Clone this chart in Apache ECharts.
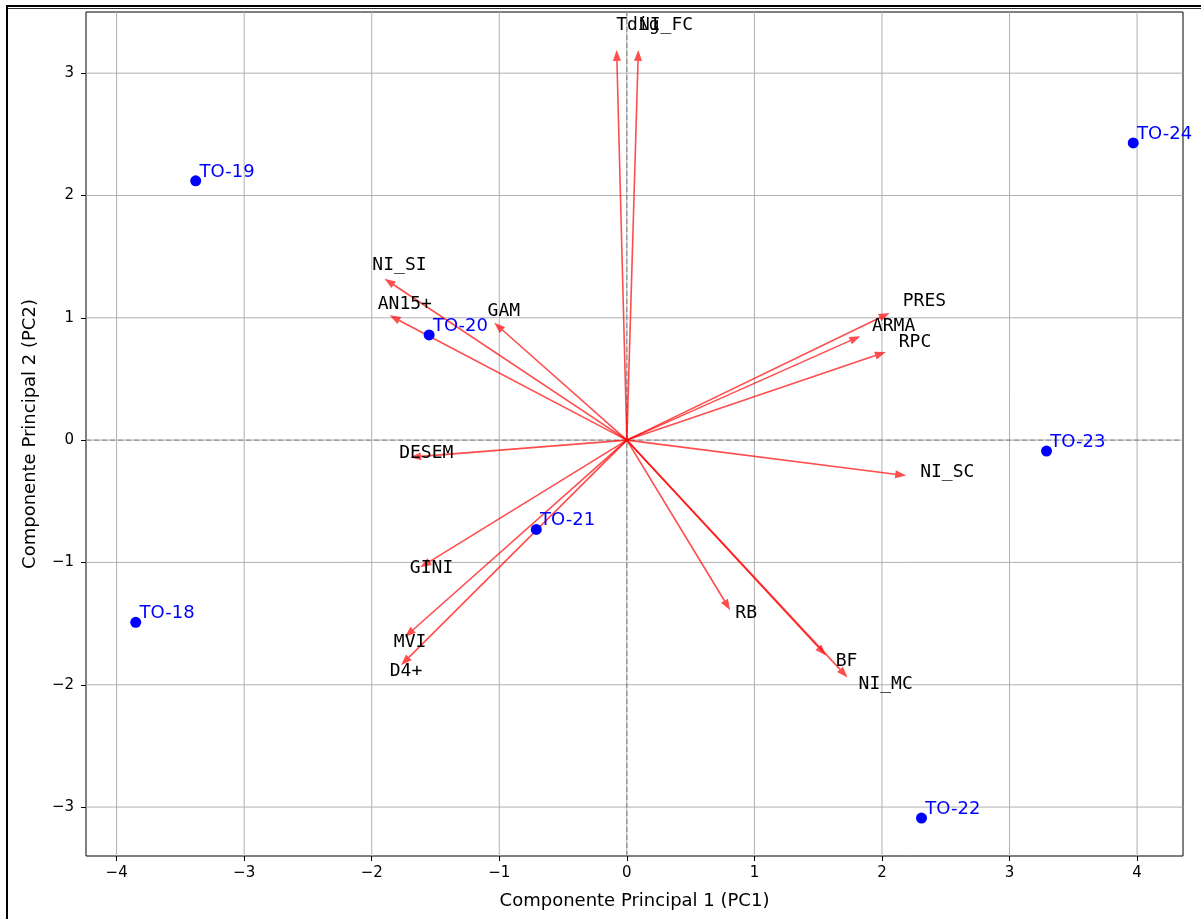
<!DOCTYPE html>
<html><head><meta charset="utf-8">
<script src="https://cdn.jsdelivr.net/npm/echarts@6/dist/echarts.min.js"></script>
<style>html,body{margin:0;padding:0;background:#fff}#c{width:1201px;height:919px}</style>
</head><body><div id="c"></div>
<script>
// Observations (PCA scores)
const pointNames = ['TO-18','TO-19','TO-20','TO-21','TO-22','TO-23','TO-24'];
const pointX = [-3.85, -3.38, -1.55, -0.71, 2.31, 3.29, 3.97];
const pointY = [-1.49, 2.12, 0.86, -0.73, -3.09, -0.09, 2.43];

// Variable loadings (arrow tips)
const varNames = ['Tdig','NI_FC','NI_SI','AN15+','GAM','PRES','ARMA','RPC','NI_SC','DESEM','GINI','MVI','D4+','RB','BF','NI_MC'];
const varX = [-0.08, 0.09, -1.90, -1.86, -1.04, 2.06, 1.83, 2.03, 2.19, -1.70, -1.62, -1.74, -1.77, 0.81, 1.56, 1.73];
const varY = [3.19, 3.19, 1.32, 1.02, 0.96, 1.04, 0.85, 0.72, -0.29, -0.14, -1.04, -1.61, -1.84, -1.39, -1.76, -1.94];

// Axes
const xTicks = [-4,-3,-2,-1,0,1,2,3,4];
const yTicks = [-3,-2,-1,0,1,2,3];
const xRange = [-4.24, 4.36];
const yRange = [-3.40, 3.50];
const xTitle = 'Componente Principal 1 (PC1)';
const yTitle = 'Componente Principal 2 (PC2)';

const labelScale = 1.05;
const pointLabelShift = 0.03;

const fmt = v => String(v).replace('-', '\u2212');
const chart = echarts.init(document.getElementById('c'), null, {renderer:'canvas'});

function vline(params, api){
  const v = api.value(0);
  const a = api.coord([v, yRange[0]]), b = api.coord([v, yRange[1]]);
  return {type:'line', shape:{x1:a[0],y1:a[1],x2:b[0],y2:b[1]}, style:{stroke:'#b0b0b0', lineWidth:1}};
}
function hline(params, api){
  const v = api.value(0);
  const a = api.coord([xRange[0], v]), b = api.coord([xRange[1], v]);
  return {type:'line', shape:{x1:a[0],y1:a[1],x2:b[0],y2:b[1]}, style:{stroke:'#b0b0b0', lineWidth:1}};
}

const option = {
  animation:false,
  backgroundColor:'#fff',
  grid:{left:86, top:12, right:18, bottom:63, outerBoundsMode:'none', containLabel:false,
        show:true, borderColor:'#000', borderWidth:1, backgroundColor:'transparent'},
  xAxis:{
    type:'value', min:xRange[0], max:xRange[1],
    name:xTitle, nameLocation:'middle', nameGap:36,
    nameTextStyle:{fontFamily:'DejaVu Sans', fontSize:18, color:'#000'},
    axisLine:{show:false, onZero:false},
    axisTick:{show:true, length:5, lineStyle:{color:'#000'}, customValues:xTicks},
    axisLabel:{fontFamily:'DejaVu Sans', fontSize:15, color:'#000', margin:10, customValues:xTicks, formatter:fmt},
    splitLine:{show:false}
  },
  yAxis:{
    type:'value', min:yRange[0], max:yRange[1],
    name:yTitle, nameLocation:'middle', nameGap:47, nameRotate:90,
    nameTextStyle:{fontFamily:'DejaVu Sans', fontSize:18, color:'#000'},
    axisLine:{show:false, onZero:false},
    axisTick:{show:true, length:5, lineStyle:{color:'#000'}, customValues:yTicks},
    axisLabel:{fontFamily:'DejaVu Sans', fontSize:15, color:'#000', margin:12, customValues:yTicks, formatter:fmt},
    splitLine:{show:false}
  },
  graphic:[
    {type:'rect', shape:{x:6, y:5, width:1195, height:2}, style:{fill:'#000'}, z:100},
    {type:'rect', shape:{x:6, y:8, width:1195, height:1}, style:{fill:'#333'}, z:100},
    {type:'rect', shape:{x:6, y:5, width:2, height:914}, style:{fill:'#000'}, z:100}
  ],
  series:[
    {type:'custom', z:1, silent:true, clip:false, renderItem:vline, data:xTicks.map(v=>[v]), encode:{x:0}},
    {type:'custom', z:1, silent:true, clip:false, renderItem:hline, data:yTicks.map(v=>[v]), encode:{y:0}},
    {type:'custom', z:2, silent:true, clip:false, data:[[0]],
      renderItem:function(params, api){
        const a = api.coord([0, yRange[0]]), b = api.coord([0, yRange[1]]);
        const c = api.coord([xRange[0], 0]), d = api.coord([xRange[1], 0]);
        return {type:'group', children:[
          {type:'line', shape:{x1:a[0],y1:a[1],x2:b[0],y2:b[1]}, style:{stroke:'#808080', lineWidth:1, lineDash:[5,3]}},
          {type:'line', shape:{x1:c[0],y1:c[1],x2:d[0],y2:d[1]}, style:{stroke:'#808080', lineWidth:1, lineDash:[5,3]}}
        ]};
      }},
    {type:'custom', z:3, silent:true, clip:false,
      data:varX.map((x,i)=>[x, varY[i]]), encode:{x:0, y:1},
      renderItem:function(params, api){
        const x = api.value(0), y = api.value(1);
        const o = api.coord([0,0]), t = api.coord([x,y]);
        const dx = t[0]-o[0], dy = t[1]-o[1], L = Math.hypot(dx,dy);
        const ux = dx/L, uy = dy/L, hl = 11, hw = 4;
        const b = [t[0]-ux*hl, t[1]-uy*hl];
        const px = -uy, py = ux;
        return {type:'group', children:[
          {type:'line', shape:{x1:o[0],y1:o[1],x2:b[0],y2:b[1]}, style:{stroke:'rgba(255,0,0,0.7)', lineWidth:1.6}},
          {type:'polygon', shape:{points:[t,[b[0]+px*hw,b[1]+py*hw],[b[0]-px*hw,b[1]-py*hw]]}, style:{fill:'rgba(255,0,0,0.7)'}}
        ]};
      }},
    {type:'scatter', z:4, silent:true, symbol:'circle', symbolSize:11,
      itemStyle:{color:'#0000ff', opacity:1}, data:pointX.map((x,i)=>[x, pointY[i]])},
    {type:'custom', z:5, silent:true, clip:false,
      data:varX.map((x,i)=>[x, varY[i], i]), encode:{x:0, y:1},
      renderItem:function(params, api){
        const p = api.coord([api.value(0)*labelScale, api.value(1)*labelScale]);
        return {type:'text', x:p[0], y:p[1]+4, style:{text:varNames[api.value(2)], fill:'#000',
          font:'18px "DejaVu Sans Mono"', align:'left', verticalAlign:'bottom'}};
      }},
    {type:'custom', z:5, silent:true, clip:false,
      data:pointX.map((x,i)=>[x, pointY[i], i]), encode:{x:0, y:1},
      renderItem:function(params, api){
        const p = api.coord([api.value(0)+pointLabelShift, api.value(1)+pointLabelShift]);
        return {type:'text', x:p[0], y:p[1]+4, style:{text:pointNames[api.value(2)], fill:'#0000ff',
          font:'18px "DejaVu Sans"', align:'left', verticalAlign:'bottom'}};
      }}
  ]
};
chart.setOption(option);
</script></body></html>
